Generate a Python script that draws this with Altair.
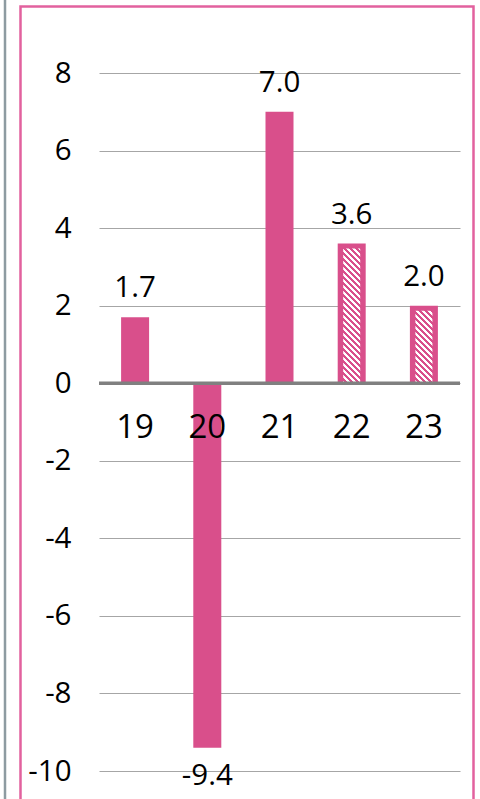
import altair as alt
import pandas as pd

# Annual growth (%) by year; the last two years are forecasts (hatched bars)
years = ["19", "20", "21", "22", "23"]
growth = [1.7, -9.4, 7.0, 3.6, 2.0]
forecast = [False, False, False, True, True]
y_ticks = [8, 6, 4, 2, 0, -2, -4, -6, -8, -10]
y_domain = [-10, 8]

PINK = "#d94f8b"
FRAME_PINK = "#e2619e"
SIDE_GRAY = "#8d9ba1"
FONT = "Open Sans"

PLOT_W, PLOT_H = 361, 698
BAR_W = 28
INNER_W = 17
INSET = 5
STRIPE_PERIOD = 6  # horizontal distance between hatch stripes, px

df = pd.DataFrame({"year": years, "growth": growth, "forecast": forecast})
df["label"] = [f"{v:.1f}" for v in growth]
zero_df = pd.DataFrame({"base": [0]})

px_per_unit = PLOT_H / (y_domain[1] - y_domain[0])


def hatch_fill(value):
    """Diagonal white/pink stripes at 45 degrees as a sharp-stop linear gradient."""
    h = value * px_per_unit - INSET
    w = INNER_W
    k = h / w
    a = (1 + k) / (1 + k * k)
    n = (w + h) / STRIPE_PERIOD
    stops = []
    j = 0
    while j < n:
        o0 = j / n
        o1 = min((j + 0.5) / n, 1.0)
        o2 = min((j + 1) / n, 1.0)
        stops += [(o0, "#ffffff"), (o1, "#ffffff"), (o1, PINK), (o2, PINK)]
        j += 1
    return alt.LinearGradient(
        gradient="linear",
        stops=[alt.GradientStop(offset=o, color=c) for o, c in stops],
        x1=0, y1=1, x2=a, y2=1 - a * k,
    )


x_enc = alt.X("year:N", sort=years, axis=None,
              scale=alt.Scale(paddingInner=0, paddingOuter=0))
y_enc = alt.Y(
    "growth:Q",
    title=None,
    scale=alt.Scale(domain=y_domain, nice=False),
    axis=alt.Axis(
        values=y_ticks, grid=True, gridColor="#a6a6a6", gridWidth=1.2,
        domain=False, ticks=False, labelPadding=28, labelFontSize=29.5,
        labelFont=FONT, labelColor="#000000",
        labelExpr="toString(datum.value)",
    ),
)

base = alt.Chart(df)

bars = base.mark_bar(size=BAR_W, color=PINK).encode(x=x_enc, y=y_enc)

# Inner hatched panel of each forecast bar, inset from the top so a pink rim remains
hatch_layers = []
for yr, val, fc in zip(years, growth, forecast):
    if fc:
        hatch_layers.append(
            base.transform_filter(alt.datum.year == yr)
            .mark_bar(size=INNER_W, yOffset=INSET, color=hatch_fill(val))
            .encode(x=x_enc, y="growth:Q", y2=alt.datum(0))
        )

zero_line = alt.Chart(zero_df).mark_rule(color="#808080", strokeWidth=3.5).encode(
    y="base:Q"
)

pos_labels = base.transform_filter(alt.datum.growth >= 0).mark_text(
    font=FONT, fontSize=29.5, baseline="alphabetic", dy=-20, color="#000000"
).encode(x=x_enc, y="growth:Q", text="label:N")

neg_labels = base.transform_filter(alt.datum.growth < 0).mark_text(
    font=FONT, fontSize=29.5, baseline="top", dy=14, color="#000000"
).encode(x=x_enc, y="growth:Q", text="label:N")

year_labels = base.mark_text(
    font=FONT, fontSize=33, baseline="middle", dy=45, color="#000000"
).encode(x=x_enc, y=alt.datum(0), text="year:N")

frame = alt.Chart(zero_df).mark_rect(
    filled=False, stroke=FRAME_PINK, strokeWidth=2.5
).encode(
    x=alt.value(-78.5), x2=alt.value(374.5),
    y=alt.value(-66.5), y2=alt.value(760),
)

side_line = alt.Chart(zero_df).mark_rule(color=SIDE_GRAY, strokeWidth=2.5).encode(
    x=alt.value(-94), y=alt.value(-80), y2=alt.value(760)
)

chart = alt.layer(
    bars, *hatch_layers, zero_line, pos_labels, neg_labels, year_labels,
    frame, side_line,
).properties(
    width=PLOT_W,
    height=PLOT_H,
    autosize=alt.AutoSizeParams(type="none"),
    padding={"left": 99, "top": 73, "right": 20, "bottom": 28},
    background="#ffffff",
).configure_view(stroke=None)

chart.save("out.html", embed_options={"renderer": "svg", "actions": False})
